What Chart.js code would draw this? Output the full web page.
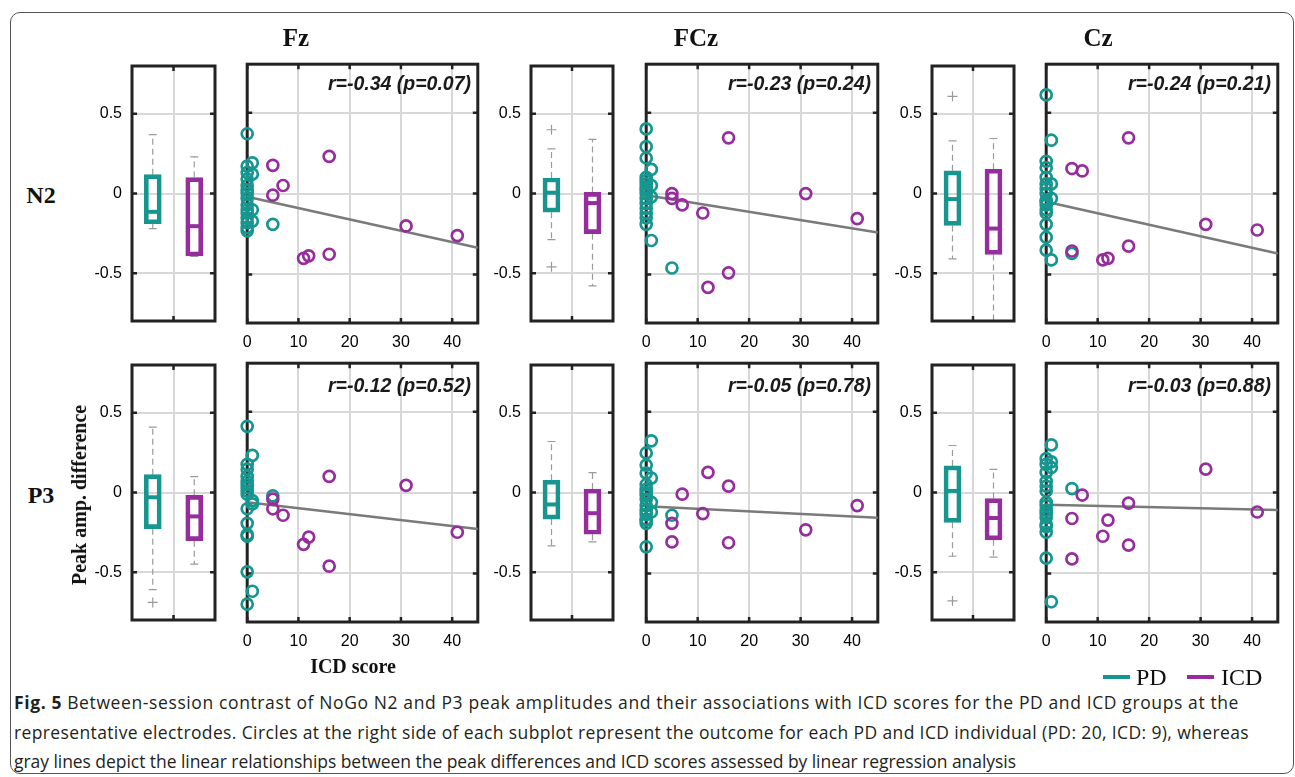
<!DOCTYPE html>
<html><head><meta charset="utf-8">
<script src="https://cdn.jsdelivr.net/npm/chart.js@4.4.1/dist/chart.umd.min.js"></script>
<style>
body{margin:0;background:#fff;width:1295px;height:777px;overflow:hidden;position:relative}
canvas{position:absolute}
.t{position:absolute;white-space:nowrap;line-height:1}
.sb{font-family:'Liberation Serif','Times New Roman',serif;font-weight:bold;color:#111}
.r{font-family:'Liberation Sans',Arial,sans-serif;font-weight:bold;font-style:italic;font-size:19.5px;color:#1a1a1a}
.cap{position:absolute;left:14px;white-space:pre;font-family:'Open Sans',sans-serif;font-size:17.5px;color:#231f20;line-height:1}
#frame{position:absolute;left:10px;top:12px;width:1284px;height:762px;box-sizing:border-box;border:1px solid #555;border-radius:10px}
</style></head><body>
<div id="frame"></div>
<script>
// ---------- data ----------
const electrodes = ['Fz', 'FCz', 'Cz'];
const components = ['N2', 'P3'];
const groups = ['PD', 'ICD'];
const xTickValues = [0, 10, 20, 30, 40];
const xTickLabels = ['0', '10', '20', '30', '40'];
const yTickValues = [-0.5, 0, 0.5];
const yTickLabels = ['-0.5', '0', '0.5'];
const fitX = [0, 45];

// ICD scores of individuals
const pdScore = [0,0,0,0,0,0,0,0,0,0,0,0,0,0,0,1,1,1,1,5];
const icdScore = [5,5,7,11,12,16,16,31,41];

// peak amplitude differences (PD individuals, order matches pdScore)
const pdFzN2  = [0.37,0.17,0.13,0.09,0.05,0.02,0.0,-0.03,-0.07,-0.10,-0.12,-0.15,-0.18,-0.21,-0.23, 0.19,0.12,-0.10,-0.17, -0.19];
const pdFCzN2 = [0.40,0.29,0.22,0.10,0.08,0.06,0.04,0.02,0.0,-0.03,-0.06,-0.09,-0.12,-0.15,-0.19, 0.15,0.05,-0.02,-0.29, -0.46];
const pdCzN2  = [0.61,0.20,0.16,0.10,0.06,0.03,0.0,-0.04,-0.07,-0.10,-0.12,-0.19,-0.27,-0.35,-0.05, 0.33,0.06,-0.03,-0.41, -0.37];
const pdFzP3  = [0.41,0.175,0.145,0.10,0.07,0.05,0.03,0.01,-0.01,-0.10,-0.19,-0.26,-0.27,-0.49,-0.69, 0.23,-0.05,-0.07,-0.61, -0.02];
const pdFCzP3 = [0.245,0.17,0.12,0.05,0.02,-0.015,-0.04,-0.08,-0.11,-0.135,-0.165,-0.19,-0.17,-0.335,0.0, 0.32,0.09,-0.06,-0.12, -0.14];
const pdCzP3  = [0.21,0.175,0.125,0.07,0.01,-0.06,-0.11,-0.155,-0.195,-0.245,-0.405,0.04,-0.08,-0.13,-0.21, 0.295,0.155,0.19,-0.675, 0.025];

// peak amplitude differences (ICD individuals, order matches icdScore)
const icdFzN2  = [0.175,-0.01,0.05,-0.40,-0.385,0.23,-0.375,-0.20,-0.26];
const icdFCzN2 = [0.0,-0.03,-0.07,-0.12,-0.58,0.345,-0.49,0.0,-0.155];
const icdCzN2  = [0.155,-0.355,0.14,-0.41,-0.40,0.345,-0.325,-0.19,-0.225];
const icdFzP3  = [-0.04,-0.10,-0.14,-0.32,-0.275,0.10,-0.455,0.045,-0.245];
const icdFCzP3 = [-0.19,-0.305,-0.01,-0.13,0.125,0.04,-0.31,-0.23,-0.08];
const icdCzP3  = [-0.16,-0.41,-0.015,-0.27,-0.17,-0.065,-0.325,0.145,-0.12];

// regression lines: y at x = 0 and x = 45
const fitFzN2  = [-0.02, -0.335];
const fitFCzN2 = [-0.01, -0.24];
const fitCzN2  = [-0.05, -0.37];
const fitFzP3  = [-0.06, -0.225];
const fitFCzP3 = [-0.085, -0.155];
const fitCzP3  = [-0.075, -0.108];

// box stats: [lower whisker, q1, median, q3, upper whisker]
const boxPdFzN2   = [-0.22, -0.19, -0.115, 0.118, 0.37];
const boxIcdFzN2  = [-0.395, -0.392, -0.205, 0.10, 0.23];
const boxPdFCzN2  = [-0.29, -0.117, 0.005, 0.097, 0.28];
const boxIcdFCzN2 = [-0.58, -0.252, -0.06, 0.007, 0.34];
const boxPdCzN2   = [-0.41, -0.20, -0.035, 0.142, 0.33];
const boxIcdCzN2  = [-0.80, -0.382, -0.22, 0.152, 0.345];
const boxPdFzP3   = [-0.61, -0.227, -0.03, 0.112, 0.41];
const boxIcdFzP3  = [-0.45, -0.302, -0.15, -0.018, 0.10];
const boxPdFCzP3  = [-0.335, -0.167, -0.075, 0.077, 0.32];
const boxIcdFCzP3 = [-0.31, -0.262, -0.13, 0.022, 0.125];
const boxPdCzP3   = [-0.40, -0.187, 0.01, 0.167, 0.295];
const boxIcdCzP3  = [-0.405, -0.297, -0.16, -0.038, 0.145];

// box outliers
const outPdFzN2 = [],  outIcdFzN2 = [];
const outPdFCzN2 = [0.40, -0.46], outIcdFCzN2 = [];
const outPdCzN2 = [0.61], outIcdCzN2 = [];
const outPdFzP3 = [-0.69], outIcdFzP3 = [];
const outPdFCzP3 = [], outIcdFCzP3 = [];
const outPdCzP3 = [-0.68], outIcdCzP3 = [];

const rTexts = ['r=-0.34 (p=0.07)', 'r=-0.23 (p=0.24)', 'r=-0.24 (p=0.21)',
                'r=-0.12 (p=0.52)', 'r=-0.05 (p=0.78)', 'r=-0.03 (p=0.88)'];

// ---------- layout / style ----------
const TEAL = '#16968f', PURPLE = '#962d9c', GRID = '#d8d8d8', AXIS = '#222';
const TICK_FONT = {family: "'Liberation Sans', Arial, sans-serif", size: 16};
const cols = [{box:[132,217], sc:[247,478], title:296},
              {box:[531,615], sc:[646,878], title:696},
              {box:[932,1016], sc:[1046,1278], title:1098}];
const rows = [{top:64, bottom:323, rY:84, label:195}, {top:363, bottom:622, rY:386, label:495}];

const panels = [
  {pd:pdFzN2, icd:icdFzN2, fit:fitFzN2, bp:boxPdFzN2, bi:boxIcdFzN2, op:outPdFzN2, oi:outIcdFzN2},
  {pd:pdFCzN2, icd:icdFCzN2, fit:fitFCzN2, bp:boxPdFCzN2, bi:boxIcdFCzN2, op:outPdFCzN2, oi:outIcdFCzN2},
  {pd:pdCzN2, icd:icdCzN2, fit:fitCzN2, bp:boxPdCzN2, bi:boxIcdCzN2, op:outPdCzN2, oi:outIcdCzN2},
  {pd:pdFzP3, icd:icdFzP3, fit:fitFzP3, bp:boxPdFzP3, bi:boxIcdFzP3, op:outPdFzP3, oi:outIcdFzP3},
  {pd:pdFCzP3, icd:icdFCzP3, fit:fitFCzP3, bp:boxPdFCzP3, bi:boxIcdFCzP3, op:outPdFCzP3, oi:outIcdFCzP3},
  {pd:pdCzP3, icd:icdCzP3, fit:fitCzP3, bp:boxPdCzP3, bi:boxIcdCzP3, op:outPdCzP3, oi:outIcdCzP3}
];

function addText(cls, txt, x, y, style) {
  const d = document.createElement('div');
  d.className = 't ' + cls; d.textContent = txt;
  d.style.left = x + 'px'; d.style.top = y + 'px';
  Object.assign(d.style, style || {});
  document.body.appendChild(d); return d;
}
function makeCanvas(l, t, w, h) {
  const c = document.createElement('canvas');
  c.width = w; c.height = h;
  c.style.left = l + 'px'; c.style.top = t + 'px';
  c.style.width = w + 'px'; c.style.height = h + 'px';
  document.body.appendChild(c); return c;
}
function noPad(s) { s.paddingLeft = 0; s.paddingRight = 0; s.paddingTop = 0; s.paddingBottom = 0; }
function framePlugin(stage, xsFn) {
  return { id: 'frame' + stage, [stage](chart) {
    const {ctx, chartArea: a, scales: {x, y}} = chart;
    ctx.save();
    ctx.strokeStyle = AXIS; ctx.lineWidth = 3;
    ctx.strokeRect(a.left, a.top, a.right - a.left, a.bottom - a.top);
    ctx.lineWidth = 2.5; const tl = 5;
    ctx.beginPath();
    xsFn(x).forEach(px => { ctx.moveTo(px, a.top); ctx.lineTo(px, a.top + tl); ctx.moveTo(px, a.bottom); ctx.lineTo(px, a.bottom - tl); });
    y.ticks.forEach(t => { const py = y.getPixelForValue(t.value); ctx.moveTo(a.left, py); ctx.lineTo(a.left + tl, py); ctx.moveTo(a.right, py); ctx.lineTo(a.right - tl, py); });
    ctx.stroke();
    ctx.restore();
  }};
}
const yScale = (showLabels, width) => ({
  min: -0.8, max: 0.8,
  afterBuildTicks: s => { s.ticks = yTickValues.map(v => ({value: v})); },
  afterFit: s => { s.width = width; noPad(s); },
  grid: {color: GRID, lineWidth: 2, drawTicks: false},
  border: {display: false},
  ticks: {display: showLabels, padding: 10, color: '#000', font: TICK_FONT,
          callback: v => yTickLabels[yTickValues.indexOf(v)]}
});
const common = {responsive: false, animation: false, events: [], devicePixelRatio: 1,
                plugins: {legend: {display: false}, tooltip: {enabled: false}}};

function boxChart(p, col, row) {
  const L = 60, P = 8;
  const w = col.box[1] - col.box[0], h = row.bottom - row.top;
  const cv = makeCanvas(col.box[0] - L, row.top - P, L + w + P, h + 2 * P);
  const whisk = (g, a, b) => ({type: 'line', data: [{x: g, y: a}, {x: g, y: b}], borderColor: '#9a9a9a',
      borderWidth: 1.2, borderDash: [6, 4], pointRadius: 0, order: 5});
  new Chart(cv, {
    type: 'bar',
    data: {labels: groups, datasets: [
      {type: 'bar', data: [[p.bp[1], p.bp[3]], [p.bi[1], p.bi[3]]], backgroundColor: 'rgba(0,0,0,0)',
       borderColor: [TEAL, PURPLE], borderWidth: 4, borderSkipped: false, barThickness: 17, order: 1},
      {type: 'line', data: [p.bp[2], p.bi[2]], showLine: false, pointStyle: 'line', pointRadius: 6,
       pointBorderWidth: 4, pointBorderColor: [TEAL, PURPLE], order: 0},
      whisk('PD', p.bp[3], p.bp[4]), whisk('PD', p.bp[1], p.bp[0]),
      whisk('ICD', p.bi[3], p.bi[4]), whisk('ICD', p.bi[1], p.bi[0]),
      {type: 'line', data: [{x:'PD', y:p.bp[0]}, {x:'PD', y:p.bp[4]}, {x:'ICD', y:p.bi[0]}, {x:'ICD', y:p.bi[4]}],
       showLine: false, pointStyle: 'line', pointRadius: 4, pointBorderWidth: 1.2, pointBorderColor: '#9a9a9a', order: 4},
      {type: 'line', data: p.op.map(v => ({x: 'PD', y: v})).concat(p.oi.map(v => ({x: 'ICD', y: v}))),
       showLine: false, pointStyle: 'cross', pointRadius: 5, pointBorderWidth: 1.2, pointBorderColor: '#9a9a9a', order: 4}
    ]},
    options: Object.assign({}, common, {
      layout: {padding: {left: 0, top: P, right: P, bottom: P}},
      scales: {
        x: {type: 'category', offset: true, grid: {offset: true, color: GRID, lineWidth: 2, drawTicks: false},
            border: {display: false}, ticks: {display: false}, afterFit: s => { s.height = 0; noPad(s); }},
        y: yScale(true, L)
      }
    }),
    plugins: [framePlugin('afterDatasetsDraw', x => [(x.getPixelForTick(0) + x.getPixelForTick(1)) / 2])]
  });
}

function scatterChart(p, col, row) {
  const P = 8, B = 40;
  const w = col.sc[1] - col.sc[0], h = row.bottom - row.top;
  const cv = makeCanvas(col.sc[0] - P, row.top - P, w + 2 * P, h + P + B);
  new Chart(cv, {
    type: 'scatter',
    data: {datasets: [
      {type: 'line', data: [{x: fitX[0], y: p.fit[0]}, {x: fitX[1], y: p.fit[1]}], borderColor: '#7a7a7a',
       borderWidth: 2.5, pointRadius: 0, order: 3, clip: false},
      {data: pdScore.map((x, i) => ({x, y: p.pd[i]})), borderColor: TEAL, backgroundColor: 'rgba(0,0,0,0)',
       pointRadius: 5.5, pointBorderWidth: 2.7, order: 1, clip: false},
      {data: icdScore.map((x, i) => ({x, y: p.icd[i]})), borderColor: PURPLE, backgroundColor: 'rgba(0,0,0,0)',
       pointRadius: 5.5, pointBorderWidth: 2.7, order: 0, clip: false}
    ]},
    options: Object.assign({}, common, {
      layout: {padding: {left: P, top: P, right: P, bottom: 0}},
      scales: {
        x: {type: 'linear', min: 0, max: 45,
            afterBuildTicks: s => { s.ticks = xTickValues.map(v => ({value: v})); },
            afterFit: s => { s.height = B; noPad(s); },
            grid: {color: GRID, lineWidth: 2, drawTicks: false}, border: {display: false},
            ticks: {padding: 10, color: '#000', font: TICK_FONT,
                    callback: v => xTickLabels[xTickValues.indexOf(v)]}},
        y: yScale(false, 0)
      }
    }),
    plugins: [framePlugin('beforeDatasetsDraw', x => x.ticks.map(t => x.getPixelForValue(t.value)))]
  });
}

rows.forEach((row, ri) => {
  cols.forEach((col, ci) => {
    const p = panels[ri * 3 + ci];
    boxChart(p, col, row);
    scatterChart(p, col, row);
    const r = addText('r', rTexts[ri * 3 + ci], 0, row.rY, {transform: 'translateY(-50%)'});
    r.style.left = ''; r.style.right = (1295 - (col.sc[1] - 7)) + 'px';
  });
  addText('sb', components[ri], 41, row.label, {fontSize: '24px', transform: 'translate(-50%,-50%)'});
});
cols.forEach((col, ci) => addText('sb', electrodes[ci], col.title, 37, {fontSize: '25px', transform: 'translate(-50%,-50%)'}));
addText('sb', 'Peak amp. difference', 79, 495, {fontSize: '20px', transform: 'translate(-50%,-50%) rotate(-90deg)'});
addText('sb', 'ICD score', 353, 666, {fontSize: '20px', transform: 'translate(-50%,-50%)'});

// legend
[[TEAL, 'PD', 1103, 1136], [PURPLE, 'ICD', 1187, 1221]].forEach(([c, t, lx, tx]) => {
  const ln = document.createElement('div');
  Object.assign(ln.style, {position: 'absolute', left: lx + 'px', top: '675px', width: '27px', height: '4px', background: c});
  document.body.appendChild(ln);
  addText('', t, tx, 677, {fontFamily: "'Liberation Serif','Times New Roman',serif", fontSize: '24px', color: '#111', transform: 'translateY(-50%)'});
});

// caption
const capLines = [
  ['Fig. 5', ' Between-session contrast of NoGo N2 and P3 peak amplitudes and their associations with ICD scores for the PD and ICD groups at the'],
  ['', 'representative electrodes. Circles at the right side of each subplot represent the outcome for each PD and ICD individual (PD: 20, ICD: 9), whereas'],
  ['', 'gray lines depict the linear relationships between the peak differences and ICD scores assessed by linear regression analysis']
];
const capRight = [1239, 1249, 1016];
[703, 733, 762].forEach((y, i) => {
  const d = document.createElement('div');
  d.className = 'cap'; d.style.top = y + 'px'; d.style.transform = 'translateY(-50%)';
  if (capLines[i][0]) { const b = document.createElement('b'); b.textContent = capLines[i][0]; d.appendChild(b); }
  d.appendChild(document.createTextNode(capLines[i][1]));
  document.body.appendChild(d);
  const natural = d.getBoundingClientRect().width;
  const chars = (capLines[i][0] + capLines[i][1]).length;
  d.style.letterSpacing = ((capRight[i] - 14 - natural) / chars).toFixed(3) + 'px';
});
</script>
</body></html>
